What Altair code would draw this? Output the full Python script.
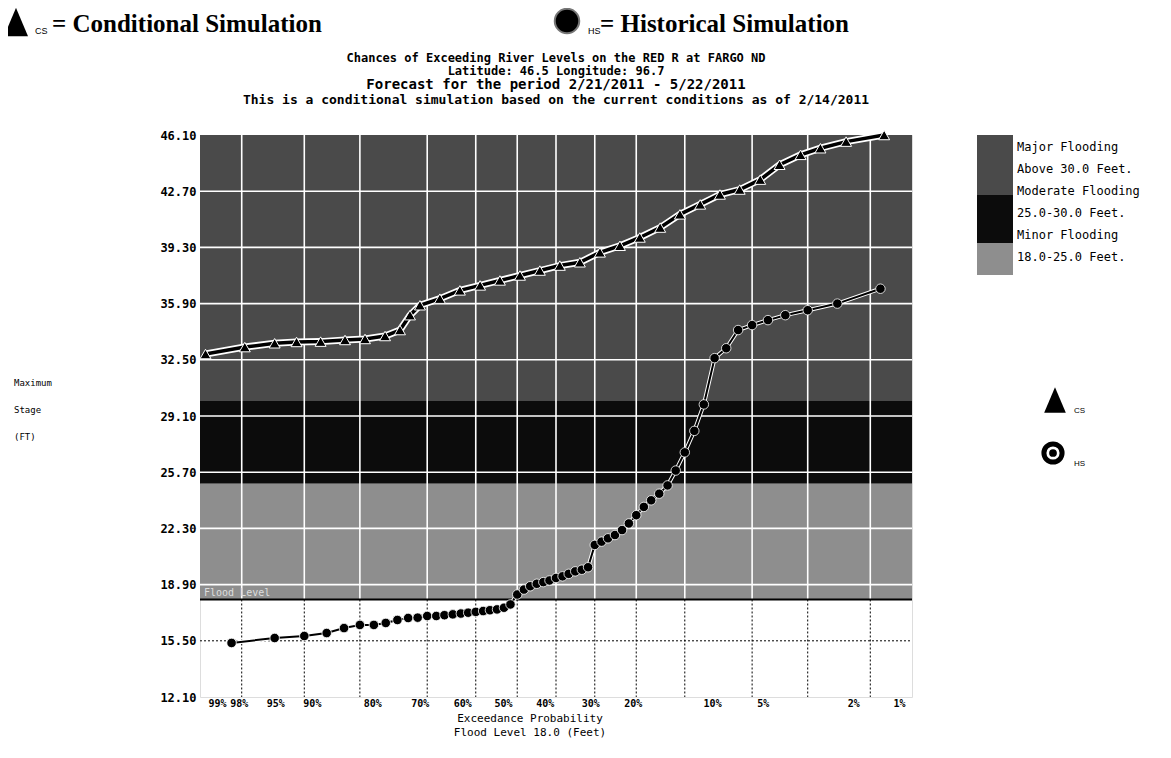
import altair as alt
import pandas as pd
from statistics import NormalDist

nd = NormalDist()

# ---------------- data ----------------
y_ticks = [12.1, 15.5, 18.9, 22.3, 25.7, 29.1, 32.5, 35.9, 39.3, 42.7, 46.1]
x_tick_pct = [99, 98, 95, 90, 80, 70, 60, 50, 40, 30, 20, 10, 5, 2, 1]
# horizontal displacement of each printed probability label (as drawn in the source)
x_label_shift = [8, -3, -29, -48, -55, -56, -55, -53, -50, -46, -52, -40, -45, -17, -7]

# Conditional simulation (triangles): exceedance probability (%) and stage (ft)
cs_prob = [98.9, 97.9, 96.7, 95.5, 93.8, 91.6, 89.4, 86.8, 84.6, 83.0, 81.3, 77.6,
           73.5, 69.0, 64.3, 59.3, 54.2, 49.0, 43.8, 38.7, 33.8, 29.2, 24.8, 20.9,
           17.3, 14.2, 11.5, 9.1, 7.2, 5.5, 4.2, 2.9, 1.6]
cs_stage = [32.85, 33.27, 33.5, 33.58, 33.6, 33.7, 33.76, 33.94, 34.3, 35.2, 35.8, 36.2,
            36.7, 37.0, 37.3, 37.6, 37.9, 38.2, 38.4, 39.0, 39.4, 39.9, 40.5, 41.3,
            41.9, 42.5, 42.8, 43.4, 44.3, 44.9, 45.3, 45.7, 46.1]

# Historical simulation (circles)
hs_prob = [98.3, 96.7, 95.0, 93.3, 91.7, 90.0, 88.3, 86.7, 85.0, 83.3, 81.7, 80.0,
           78.3, 76.7, 75.0, 73.3, 71.7, 70.0, 68.3, 66.7, 65.0, 63.3, 61.7, 60.0,
           58.3, 56.7, 55.0, 53.3, 51.7, 50.0, 48.3, 46.7, 45.0, 43.3, 41.7, 40.0,
           38.3, 36.7, 35.0, 33.3, 31.7, 30.0, 28.3, 26.7, 25.0, 23.3, 21.7, 20.0,
           18.3, 16.7, 15.0, 13.3, 11.7, 10.0, 8.3, 6.7, 5.0, 3.3, 1.7]
hs_stage = [15.37, 15.67, 15.79, 15.97, 16.27, 16.46, 16.46, 16.58, 16.76, 16.88, 16.9, 17.0,
            17.0, 17.05, 17.1, 17.15, 17.2, 17.25, 17.3, 17.35, 17.4, 17.5, 17.7, 18.3,
            18.6, 18.8, 18.95, 19.05, 19.15, 19.3, 19.4, 19.55, 19.7, 19.8, 19.95, 21.3,
            21.5, 21.7, 21.9, 22.2, 22.6, 23.1, 23.6, 24.0, 24.4, 24.9, 25.8, 26.9,
            28.2, 29.8, 32.6, 33.2, 34.3, 34.6, 34.9, 35.2, 35.5, 35.9, 36.8]

band_names = ["Major", "Moderate", "Minor"]
band_low = [30.0, 25.0, 18.0]
band_high = [46.1, 30.0, 25.0]
band_colors = ["#4a4a4a", "#0c0c0c", "#8e8e8e"]

legend_lines = ["Major Flooding", "Above 30.0 Feet.", "Moderate Flooding",
                "25.0-30.0 Feet.", "Minor Flooding", "18.0-25.0 Feet."]

title_lines = ["Chances of Exceeding River Levels on the RED R at FARGO ND",
               "Latitude: 46.5    Longitude: 96.7",
               "Forecast for the period 2/21/2011 - 5/22/2011",
               "This is a conditional simulation based on the current conditions as of 2/14/2011"]

FLOOD = 18.0
YMIN, YMAX = 12.1, 46.1


def zpos(p):
    return nd.inv_cdf(1 - p / 100.0)


ZMIN, ZMAX = zpos(99), zpos(1)

cs = pd.DataFrame({"p": cs_prob, "stage": cs_stage})
cs["z"] = cs["p"].map(zpos)
hs = pd.DataFrame({"p": hs_prob, "stage": hs_stage})
hs["z"] = hs["p"].map(zpos)
bands = pd.DataFrame({"name": band_names, "lo": band_low, "hi": band_high, "c": band_colors})
xt = pd.DataFrame({"z": [zpos(p) for p in x_tick_pct[1:-1]]})
yt_up = pd.DataFrame({"y": [v for v in y_ticks if v > FLOOD and v < YMAX]})
yt_lo = pd.DataFrame({"y": [v for v in y_ticks if v < FLOOD and v > YMIN]})

# label / offset expressions for the probability axis
tick_z = [round(zpos(p), 4) for p in x_tick_pct]
expr = "''"
off_expr = "0"
for zv, p, sh in zip(tick_z[::-1], x_tick_pct[::-1], x_label_shift[::-1]):
    expr = f"abs(datum.value - ({zv})) < 0.001 ? '{p}%' : ({expr})"
    off_expr = f"abs(datum.value - ({zv})) < 0.001 ? {sh} : ({off_expr})"

MONO = "DejaVu Sans Mono"
W, H = 712, 562
ppf = H / (YMAX - YMIN)

xs = alt.Scale(domain=[ZMIN, ZMAX], nice=False, zero=False)
ys = alt.Scale(domain=[YMIN, YMAX], nice=False, zero=False)

X = alt.X("z:Q", scale=xs,
          axis=alt.Axis(values=tick_z, labelExpr=expr, grid=False, title=None,
                        labelFont=MONO, labelFontWeight="bold", labelFontSize=10,
                        labelColor="black", ticks=False,
                        labelOffset={"condition": {"test": "true", "expr": off_expr}, "value": 0},
                        domain=False, labelPadding=1, labelOverlap=False))
Y = alt.Y("stage:Q", scale=ys,
          axis=alt.Axis(values=y_ticks, format=".2f", grid=False, title=None,
                        labelFont=MONO, labelFontWeight="bold", labelFontSize=12,
                        labelColor="black", ticks=False,
                        domain=False, labelPadding=4))

band_layer = alt.Chart(bands).mark_rect().encode(
    x=alt.value(0), x2=alt.value(W),
    y=alt.Y("hi:Q", scale=ys), y2="lo:Q",
    color=alt.Color("c:N", scale=None))

vgrid_up = alt.Chart(xt).mark_rule(color="white", strokeWidth=1.6).encode(
    x=alt.X("z:Q", scale=xs), y=alt.value(0), y2=alt.value(H - (FLOOD - YMIN) * ppf))
vgrid_lo = alt.Chart(xt).mark_rule(color="black", strokeWidth=1, strokeDash=[2, 2]).encode(
    x=alt.X("z:Q", scale=xs), y=alt.value(H - (FLOOD - YMIN) * ppf), y2=alt.value(H))
hgrid_up = alt.Chart(yt_up).mark_rule(color="white", strokeWidth=1.6).encode(
    y=alt.Y("y:Q", scale=ys), x=alt.value(0), x2=alt.value(W))
hgrid_lo = alt.Chart(yt_lo).mark_rule(color="black", strokeWidth=1, strokeDash=[2, 2]).encode(
    y=alt.Y("y:Q", scale=ys), x=alt.value(0), x2=alt.value(W))
flood_line = alt.Chart(pd.DataFrame({"y": [FLOOD]})).mark_rule(color="black", strokeWidth=2).encode(
    y=alt.Y("y:Q", scale=ys), x=alt.value(0), x2=alt.value(W))

flood_txt = alt.Chart(pd.DataFrame({"t": ["Flood Level"]})).mark_text(
    font=MONO, fontSize=10, color="#dddddd", align="left", baseline="bottom").encode(
    text="t:N", x=alt.value(4), y=alt.value(H - (FLOOD - YMIN) * ppf - 1))

cs_halo = alt.Chart(cs).mark_line(color="white", strokeWidth=7).encode(x=X, y=Y)
cs_line = alt.Chart(cs).mark_line(color="black", strokeWidth=3.5).encode(x=X, y=Y)
cs_pts = alt.Chart(cs).mark_point(shape="triangle-up", filled=True, color="black", size=120,
                                  stroke="white", strokeWidth=1, opacity=1).encode(x=X, y=Y)
hs_halo = alt.Chart(hs).mark_line(color="white", strokeWidth=4).encode(x=X, y=Y)
hs_line = alt.Chart(hs).mark_line(color="black", strokeWidth=2).encode(x=X, y=Y)
hs_pts = alt.Chart(hs).mark_point(shape="circle", filled=True, color="black", size=90,
                                  stroke="white", strokeWidth=0.8, opacity=1).encode(x=X, y=Y)

# ---- annotation texts (positions relative to plot origin) ----
title_df = pd.DataFrame({"t": title_lines})
title_layer = alt.layer(
    *[alt.Chart(title_df.iloc[[i]]).mark_text(
        font=MONO, fontWeight="bold", fontSize=fs, color="black", align="center", baseline="middle").encode(
        text="t:N", x=alt.value(W / 2), y=alt.value(yy))
      for i, (fs, yy) in enumerate([(12, -77), (12, -64), (14, -50), (13, -35)])]
)

leg_df = pd.DataFrame({"t": legend_lines})
legend_text = alt.layer(
    *[alt.Chart(leg_df.iloc[[i]]).mark_text(
        font=MONO, fontSize=12, color="black", align="left", baseline="middle").encode(
        text="t:N", x=alt.value(817), y=alt.value(12 + 22 * i))
      for i in range(6)]
)
leg_sw = alt.Chart(pd.DataFrame({"lo": [0, 60, 108], "hi": [60, 108, 140], "c": band_colors})).mark_rect().encode(
    x=alt.value(777), x2=alt.value(813), y=alt.Y("lo:Q", scale=None), y2="hi:Q",
    color=alt.Color("c:N", scale=None))

ytitle = alt.layer(
    *[alt.Chart(pd.DataFrame({"t": [s]})).mark_text(
        font=MONO, fontSize=9, color="black", align="left", baseline="middle").encode(
        text="t:N", x=alt.value(-186), y=alt.value(yy))
      for s, yy in [("Maximum", 248), ("Stage", 275), ("(FT)", 302)]]
)
xtitle = alt.layer(
    *[alt.Chart(pd.DataFrame({"t": [s]})).mark_text(
        font=MONO, fontSize=11, color="black", align="center", baseline="middle").encode(
        text="t:N", x=alt.value(330), y=alt.value(yy))
      for s, yy in [("Exceedance Probability", 584), ("Flood Level 18.0 (Feet)", 598)]]
)

# symbol legends
tri_path = "M0,-1L0.85,1L-0.85,1Z"
hdr_syms = alt.layer(
    alt.Chart(pd.DataFrame({"a": [1]})).mark_point(shape=tri_path, filled=True, color="black", size=800, opacity=1).encode(
        x=alt.value(-184), y=alt.value(-113)),
    alt.Chart(pd.DataFrame({"a": [1]})).mark_point(shape="circle", filled=True, color="black", size=600,
                                                 stroke="#777777", strokeWidth=2, opacity=1).encode(
        x=alt.value(367), y=alt.value(-114)),
    alt.Chart(pd.DataFrame({"a": [1]})).mark_point(shape=tri_path, filled=True, color="black", size=650, opacity=1).encode(
        x=alt.value(855), y=alt.value(265)),
    alt.Chart(pd.DataFrame({"a": [1]})).mark_point(shape="circle", filled=False, color="black", size=330,
                                                 strokeWidth=5, opacity=1).encode(
        x=alt.value(853), y=alt.value(318)),
    alt.Chart(pd.DataFrame({"a": [1]})).mark_point(shape="circle", filled=True, color="black", size=60, opacity=1).encode(
        x=alt.value(853), y=alt.value(318)),
)
hdr_text = alt.layer(
    *[alt.Chart(pd.DataFrame({"t": [s]})).mark_text(
        font="Liberation Serif", fontWeight="bold", fontSize=fs, color="black", align="left",
        baseline="middle").encode(text="t:N", x=alt.value(xx), y=alt.value(yy))
      for s, fs, xx, yy in [("= Conditional Simulation", 25, -148, -111),
                            ("= Historical Simulation", 25, 400, -111)]],
    *[alt.Chart(pd.DataFrame({"t": [s]})).mark_text(
        font="Liberation Sans", fontSize=fs, color="black", align="left",
        baseline="middle").encode(text="t:N", x=alt.value(xx), y=alt.value(yy))
      for s, fs, xx, yy in [("CS", 9, -165, -104), ("HS", 9, 388, -104),
                            ("CS", 8, 874, 276), ("HS", 8, 874, 329)]],
)

chart = alt.layer(
    band_layer, vgrid_up, vgrid_lo, hgrid_up, hgrid_lo, flood_line, flood_txt,
    cs_halo, cs_line, hs_halo, hs_line, cs_pts, hs_pts,
    title_layer, legend_text, leg_sw, ytitle, xtitle, hdr_syms, hdr_text
).properties(
    width=W, height=H,
    padding={"left": 192, "top": 127, "right": 251, "bottom": 53},
    autosize=alt.AutoSizeParams(type="none"),
).configure_view(stroke="black", strokeWidth=1.5).configure(background="white")

chart.save("out.html", embed_options={"renderer": "svg", "actions": False})
